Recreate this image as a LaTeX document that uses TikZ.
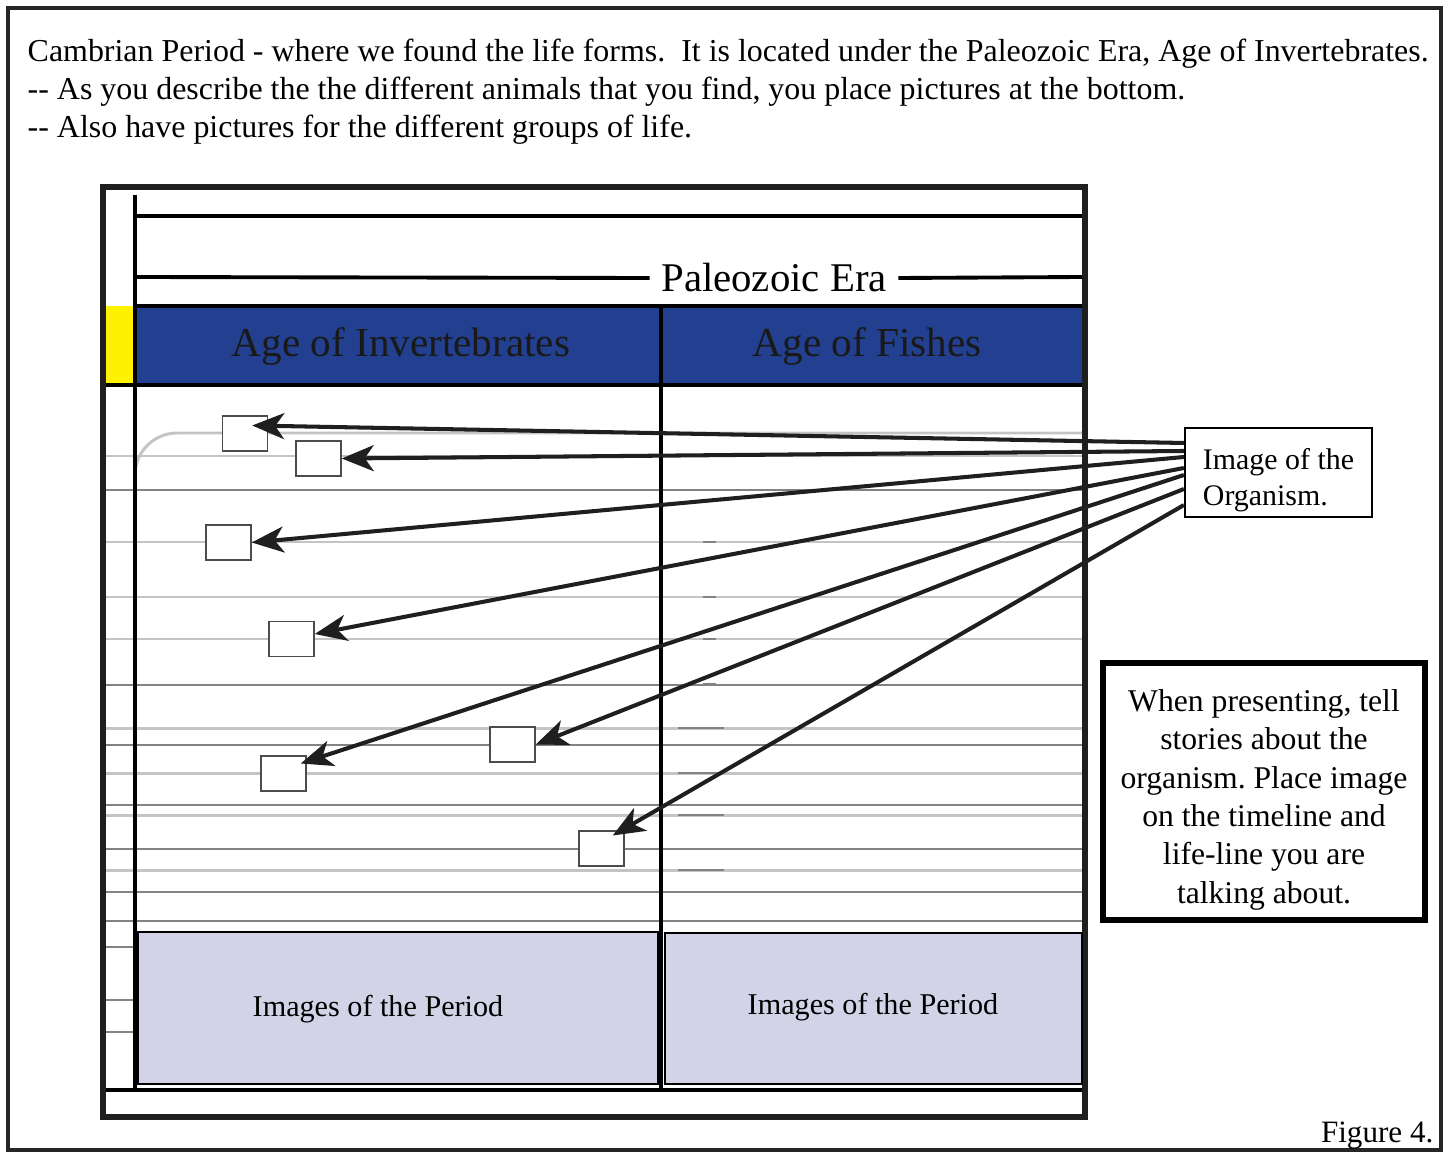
\documentclass[tikz,border=0pt]{standalone}
\usepackage{fontspec}
\setmainfont{Liberation Serif}
\usetikzlibrary{arrows.meta}

\definecolor{ageblue}{HTML}{22408F}
\definecolor{periodfill}{HTML}{D2D3E6}
\definecolor{lightrule}{HTML}{C4C4C4}
\definecolor{darkrule}{HTML}{838383}

\tikzset{
  picbox/.style={draw=black!70, fill=white, line width=0.4pt, minimum width=0.45cm, minimum height=0.35cm, inner sep=0pt},
  periodbox/.style={draw=black, fill=periodfill, line width=0.6pt, inner sep=0pt},
  arr/.style={line width=1.15pt, draw=black!88, -{Stealth[length=0.32cm,width=0.26cm,inset=0.09cm]}},
  lightline/.style={lightrule, line width=0.85pt},
  darkline/.style={darkrule, line width=0.5pt},
  heavy/.style={line width=1.1pt}
}

\begin{document}
\frenchspacing
\begin{tikzpicture}[x=0.01cm, y=-0.01cm]
  \useasboundingbox (0,0) rectangle (1449,1152);

  % Frame and heading
  \draw[line width=0.9pt, black!85] (8,8) rectangle (1441,1150);
  \node[anchor=north west, inner sep=0pt, align=left, font=\fontsize{9.08}{10.8}\selectfont] (title) at (27,38)
    {Cambrian Period - where we found the life forms.\ \ It is located under the Paleozoic Era, Age of Invertebrates.\\
     -{}- As you describe the the different animals that you find, you place pictures at the bottom.\\
     -{}- Also have pictures for the different groups of life.};

  % Life-lines
  \draw[lightline, rounded corners=12] (135,457) |- (1082,433);
  \foreach \y in {456,542,597,639,728,773,815,870}
    \draw[lightline] (105,\y) -- (1082,\y);
  \foreach \y in {490,685,745,805,849,892,921}
    \draw[darkline] (105,\y) -- (1082,\y);
  \foreach \y in {947,1000,1032}
    \draw[darkline] (105,\y) -- (135,\y);
  \foreach \y in {490,542,597,639,684,745,805,849,892}
    \draw[darkrule, line width=0.6pt] (703,\y) -- (716,\y);
  \foreach \y in {728,773,815,870,921}
    \draw[darkrule, line width=0.6pt] (678,\y) -- (724,\y);

  % Timeline
  \fill[ageblue] (135,306) rectangle (1082,385);
  \fill[yellow] (105,306) rectangle (135,385);
  \draw[heavy] (135,306) -- (1082,306);
  \draw[heavy] (105,385) -- (1082,385);
  \draw[heavy] (135,195) -- (135,1090);
  \draw[heavy] (135,216) -- (1082,216);
  \draw[heavy] (661,306) -- (661,1090);
  \draw[heavy] (103,1090) -- (1085,1090);
  \draw[line width=1.8pt, black!88] (103,187) rectangle (1085,1117);

  \node[inner sep=0.11cm, font=\fontsize{11.6}{13}\selectfont] (era) at (774,278) {Paleozoic Era};
  \draw[heavy] (135,277) -- (era.west);
  \draw[heavy] (era.east) -- (1082,277);

  \node[font=\fontsize{11.7}{13}\selectfont, text=black!90] (inv) at (401,346) {Age of Invertebrates};
  \node[font=\fontsize{11.7}{13}\selectfont, text=black!90] (fish) at (867,346) {Age of Fishes};

  % Period pictures
  \node[periodbox, minimum width=5.2cm, minimum height=1.52cm] (per1) at (398,1008) {};
  \node[periodbox, minimum width=4.17cm, minimum height=1.51cm] (per2) at (873.5,1008.5) {};
  \node[font=\fontsize{8.58}{10}\selectfont] (per1t) at (378,1009) {Images of the Period};
  \node[font=\fontsize{8.58}{10}\selectfont] (per2t) at (873,1007) {Images of the Period};

  % Organism pictures
  \node[picbox] (b1) at (245,433.5) {};
  \node[picbox] (b2) at (318.5,458.5) {};
  \node[picbox] (b3) at (228.5,542.5) {};
  \node[picbox] (b4) at (291.5,639) {};
  \node[picbox] (b5) at (283.5,773.5) {};
  \node[picbox] (b6) at (512.5,744.5) {};
  \node[picbox] (b7) at (601.5,848.5) {};

  % Notes
  \node[draw, line width=0.6pt, minimum width=1.87cm, minimum height=0.89cm, inner ysep=0pt, align=left,
        font=\fontsize{8.5}{10.2}\selectfont] (org) at (1278.5,472.5) {\rule{0pt}{10.4pt}Image of the\\Organism.};
  \node[draw, line width=1.8pt, minimum width=3.22cm, minimum height=2.57cm, inner ysep=0pt, align=center,
        font=\fontsize{9.0}{10.9}\selectfont] (note) at (1264,791.5)
    {\rule{0pt}{11pt}When presenting, tell\\stories about the\\organism. Place image\\on the timeline and\\life-line you are\\talking about.};
  \node[anchor=east, inner sep=0pt, font=\fontsize{8.84}{10}\selectfont] (fig) at (1434,1136) {Figure 4.};

  % Arrows to the pictures
  \draw[arr] ([yshift=0.295cm]org.west) -- ([xshift=-0.16cm,yshift=0.08cm]b1.east);
  \draw[arr] ([yshift=0.215cm]org.west) -- (b2.east);
  \draw[arr] ([yshift=0.155cm]org.west) -- (b3.east);
  \draw[arr] ([yshift=0.045cm]org.west) -- ([yshift=0.05cm]b4.east);
  \draw[arr] ([yshift=-0.025cm]org.west) -- ([xshift=-0.06cm,yshift=0.1cm]b5.east);
  \draw[arr] ([yshift=-0.165cm]org.west) -- (b6.east);
  \draw[arr] ([yshift=-0.325cm]org.west) -- ([xshift=-0.12cm,yshift=0.13cm]b7.east);
\end{tikzpicture}
\end{document}
